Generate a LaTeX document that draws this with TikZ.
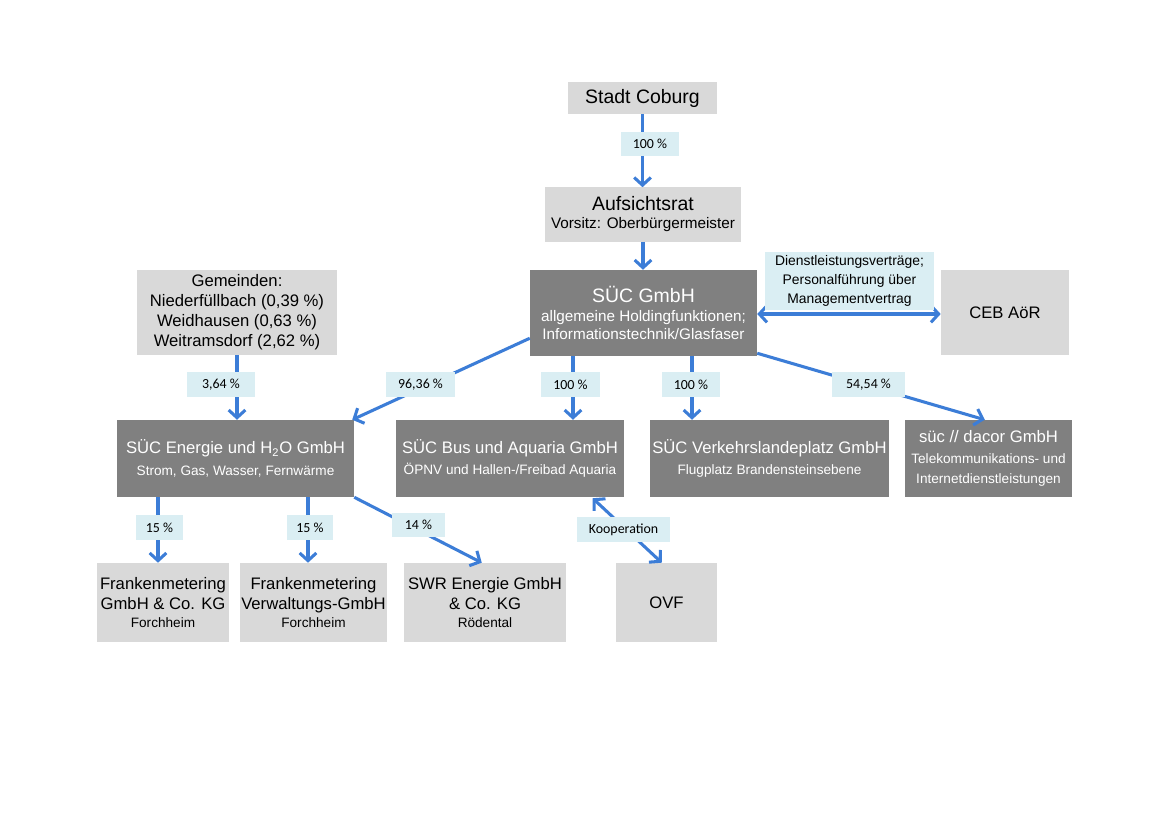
\documentclass[tikz,border=0pt]{standalone}
\usepackage{fontspec}
\setmainfont{Liberation Sans}
\newfontfamily\labelfont{Carlito}
\usetikzlibrary{arrows.meta,calc}
\definecolor{lightbox}{HTML}{D9D9D9}
\definecolor{darkbox}{HTML}{808080}
\definecolor{lblue}{HTML}{DAEEF3}
\definecolor{arrowblue}{RGB}{60,125,215}
\newcommand\fA{\fontsize{14}{16.8}\selectfont}
\newcommand\fB{\fontsize{11}{13.6}\selectfont}
\newcommand\fC{\fontsize{12}{14.4}\selectfont}
\newcommand\fD{\fontsize{9.8}{13}\selectfont}
\newcommand\fE{\fontsize{10}{12.8}\selectfont}
\newcommand\fL{\labelfont\fontsize{10}{12}\selectfont}
\begin{document}
\begin{tikzpicture}[x=0.72pt,y=-0.72pt,
 sz/.style 2 args={minimum width=#1, minimum height=#2},
 lbox/.style={fill=lightbox, inner sep=0pt, align=center, text=black},
 dbox/.style={fill=darkbox, inner sep=0pt, align=center, text=white},
 lab/.style={fill=lblue, inner sep=0pt, align=center, font=\fL},
 arr/.style={draw=arrowblue, line width=2.2pt, -{Straight Barb[length=5.5pt,width=12pt]}},
 darr/.style={draw=arrowblue, line width=2.2pt, {Straight Barb[length=5.5pt,width=12pt]}-{Straight Barb[length=5.5pt,width=12pt]}}]
\useasboundingbox (0,0) rectangle (1169,826);
\fill[white] (0,0) rectangle (1169,826);

% boxes
\node[lbox, sz={107.3pt}{23pt}, font=\fA] (stadt) at (642.5,98) {Stadt Coburg};
\node[lbox, sz={141.1pt}{38.9pt}] (auf) at (643,214.5) {{\fA Aufsichtsrat}\\[1pt]{\fB Vorsitz: Oberbürgermeister}};
\node[dbox, sz={163.4pt}{61.9pt}] (suc) at (643.5,313) {{\fA SÜC GmbH}\\[2pt]{\fB allgemeine Holdingfunktionen;}\\[1pt]{\fB Informationstechnik/Glasfaser}};
\node[lbox, sz={92.2pt}{61.2pt}, font=\fC] (ceb) at (1005,312.5) {CEB AöR};
\node[lbox, sz={144pt}{61.2pt}, font=\fC] (gem) at (237,312.5) {Gemeinden:\\Niederfüllbach (0,39 \%)\\Weidhausen (0,63 \%)\\Weitramsdorf (2,62 \%)};
\node[dbox, sz={170.6pt}{55.4pt}] (energie) at (235.5,458.5) {{\fC SÜC Energie und H\textsubscript{2}O GmbH}\\[3.5pt]{\fD Strom, Gas, Wasser, Fernwärme}};
\node[dbox, sz={164.2pt}{55.4pt}] (bus) at (510,458.5) {{\fC SÜC Bus und Aquaria GmbH}\\[3.5pt]{\fD ÖPNV und Hallen-/Freibad Aquaria}};
\node[dbox, sz={172.1pt}{55.4pt}] (vlp) at (769.5,458.5) {{\fC SÜC Verkehrslandeplatz GmbH}\\[3.5pt]{\fD Flugplatz Brandensteinsebene}};
\node[dbox, sz={120.2pt}{55.4pt}] (dacor) at (988.5,458.5) {{\fC süc // dacor GmbH}\\[3pt]{\fD Telekommunikations- und}\\[2pt]{\fD Internetdienstleistungen}};
\node[lbox, sz={95pt}{56.9pt}] (fm1) at (163,602.5) {{\fC Frankenmetering}\\[2pt]{\fC GmbH \& Co. KG}\\[1pt]{\fD Forchheim}};
\node[lbox, sz={105.8pt}{56.9pt}] (fm2) at (313.5,602.5) {{\fC Frankenmetering}\\[2pt]{\fC Verwaltungs-GmbH}\\[1pt]{\fD Forchheim}};
\node[lbox, sz={116.6pt}{56.9pt}] (swr) at (485,602.5) {{\fC SWR Energie GmbH}\\[2pt]{\fC \& Co. KG}\\[1pt]{\fD Rödental}};
\node[lbox, sz={72.7pt}{56.9pt}, font=\fC] (ovf) at (666.5,602.5) {OVF};

% helper coordinates
\coordinate (x573) at (573,0);
\coordinate (x692) at (692,0);
\coordinate (x158) at (158,0);
\coordinate (x308) at (308,0);

% connectors
\draw[arr] (stadt.south) -- (stadt.south |- auf.north);
\draw[arr] (auf.south) -- (auf.south |- suc.north);
\draw[arr] (gem.south) -- (gem.south |- energie.north);
\draw[arr] ($(suc.south west)+(0,-18)$) -- ($(energie.north east)+(-2,0)$);
\draw[arr] (suc.south -| x573) -- (bus.north -| x573);
\draw[arr] (suc.south -| x692) -- (vlp.north -| x692);
\draw[arr] ($(suc.south east)+(0,-3)$) -- ($(dacor.north west)+(80,0)$);
\draw[darr] ($(suc.east)+(0,1)$) -- ($(suc.east -| ceb.west)+(0,1)$);
\draw[arr] (energie.south -| x158) -- (fm1.north -| x158);
\draw[arr] (energie.south -| x308) -- (fm2.north -| x308);
\draw[arr] (energie.south east) -- ($(swr.north west)+(78,0)$);
\draw[darr] ($(bus.south west)+(197,1)$) -- ($(ovf.north west)+(46,0)$);

% labels
\node[lab, sz={41.8pt}{17.3pt}] (l1) at (650,144) {100 \%};
\node[lab, sz={49pt}{18pt}] (l2) at (221,384.5) {3,64 \%};
\node[lab, sz={49.7pt}{18pt}] (l3) at (420.5,384.5) {96,36 \%};
\node[lab, sz={42.5pt}{18pt}] (l4) at (570.5,384.5) {100 \%};
\node[lab, sz={41.8pt}{18pt}] (l5) at (691,384.5) {100 \%};
\node[lab, sz={52.6pt}{18pt}] (l6) at (868.5,384.5) {54,54 \%};
\node[lab, sz={33.8pt}{18pt}] (l7) at (159.5,527.5) {15 \%};
\node[lab, sz={33.1pt}{18pt}] (l8) at (310,527.5) {15 \%};
\node[lab, sz={38.2pt}{17.3pt}] (l9) at (418.5,525) {14 \%};
\node[lab, sz={67pt}{18pt}] (l10) at (623.5,529.5) {Kooperation};
\node[lab, sz={121.7pt}{41.8pt}, font=\fE] (l11) at (849.5,281) {Dienstleistungsverträge;\\[1pt]Personalführung über\\[1pt]Managementvertrag};
\end{tikzpicture}
\end{document}
